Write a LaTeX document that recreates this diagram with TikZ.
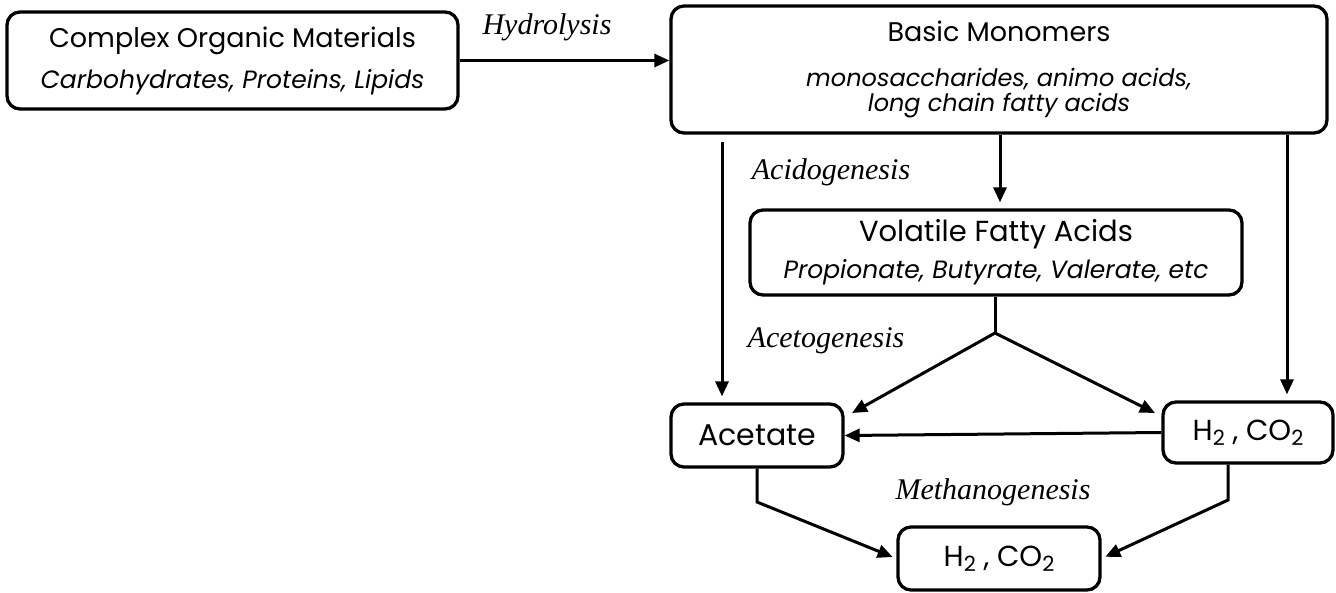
\documentclass[tikz,border=0pt]{standalone}
\usepackage{fontspec}
\setmainfont{Poppins}
\newfontfamily\labfont{Liberation Serif}
\usetikzlibrary{arrows.meta}
\newcommand{\sbt}[1]{\raisebox{-5pt}{\fontsize{21}{21}\selectfont #1}}
\begin{document}
\begin{tikzpicture}[x=1pt,y=-1pt,
  box/.style={draw, line width=3.3pt, rounded corners=13pt, inner sep=0pt, align=center},
  arr/.style={line width=3pt, -{Triangle[length=15pt,width=13pt]}},
  ln/.style={line width=3pt},
  lab/.style={font=\labfont\itshape\fontsize{30}{32}\selectfont, inner sep=0pt}
]
\useasboundingbox (0,0) rectangle (1336,592);
\node[box, minimum width=451pt, minimum height=97pt, font=\fontsize{25}{41}\selectfont] (com) at (232.5,60.5)
  {{\fontsize{27}{41}\selectfont Complex Organic Materials}\\{\itshape Carbohydrates, Proteins, Lipids}};
\node[box, minimum width=656pt, minimum height=127pt,
      font=\fontsize{24}{25}\selectfont] (bas) at (999,69.5)
  {{\fontsize{27}{25}\selectfont Basic Monomers}\\[20pt]{\itshape monosaccharides, animo acids,}\\{\itshape long chain fatty acids}};
\node[box, minimum width=492pt, minimum height=85pt,
      font=\fontsize{25}{37}\selectfont] (vfa) at (996,252.5)
  {{\fontsize{29}{37}\selectfont Volatile Fatty Acids}\\{\itshape Propionate, Butyrate, Valerate, etc}};
\node[box, minimum width=172pt, minimum height=63pt, font=\fontsize{30}{32}\selectfont] (ace) at (757,435.5) {Acetate};
\node[box, minimum width=170pt, minimum height=61pt, font=\fontsize{29}{32}\selectfont] (h2a) at (1248,432.5) {H\sbt{2} , CO\sbt{2}};
\node[box, minimum width=202pt, minimum height=63pt, font=\fontsize{29}{32}\selectfont] (bot) at (999,558.5) {H\sbt{2} , CO\sbt{2}};

\node[lab] (lh) at (547,27) {Hydrolysis};
\node[lab] (la) at (831,172) {Acidogenesis};
\node[lab] (lc) at (826,341) {Acetogenesis};
\node[lab] (lm) at (993,492) {Methanogenesis};

\draw[arr] (com.east) -- (com.east -| bas.west);
\coordinate (l0) at (722,142);
\draw[arr, shorten >=6pt] (l0) -- (l0 |- ace.north);
\draw[arr, shorten >=6pt] (bas.south -| 1000,0) -- (vfa.north -| 1000,0);
\draw[arr, shorten >=6pt] (bas.south -| 1287,0) -- (h2a.north -| 1287,0);

\coordinate (sp) at (995,333);
\coordinate (ta) at (852,413);
\coordinate (tb) at (1155,413);
\draw[ln] (vfa.south -| sp) -- (sp);
\draw[arr] (sp) -- (ta);
\draw[arr] (sp) -- (tb);
\draw[arr] (h2a.west) -- (ace.east);

\coordinate (ka) at (757,502);
\coordinate (kb) at (1228,500);
\draw[arr, shorten >=4pt] (ace.south -| ka) -- (ka) -- (bot.west);
\draw[arr, shorten >=4pt] (h2a.south -| kb) -- (kb) -- (bot.east);
\end{tikzpicture}
\end{document}
